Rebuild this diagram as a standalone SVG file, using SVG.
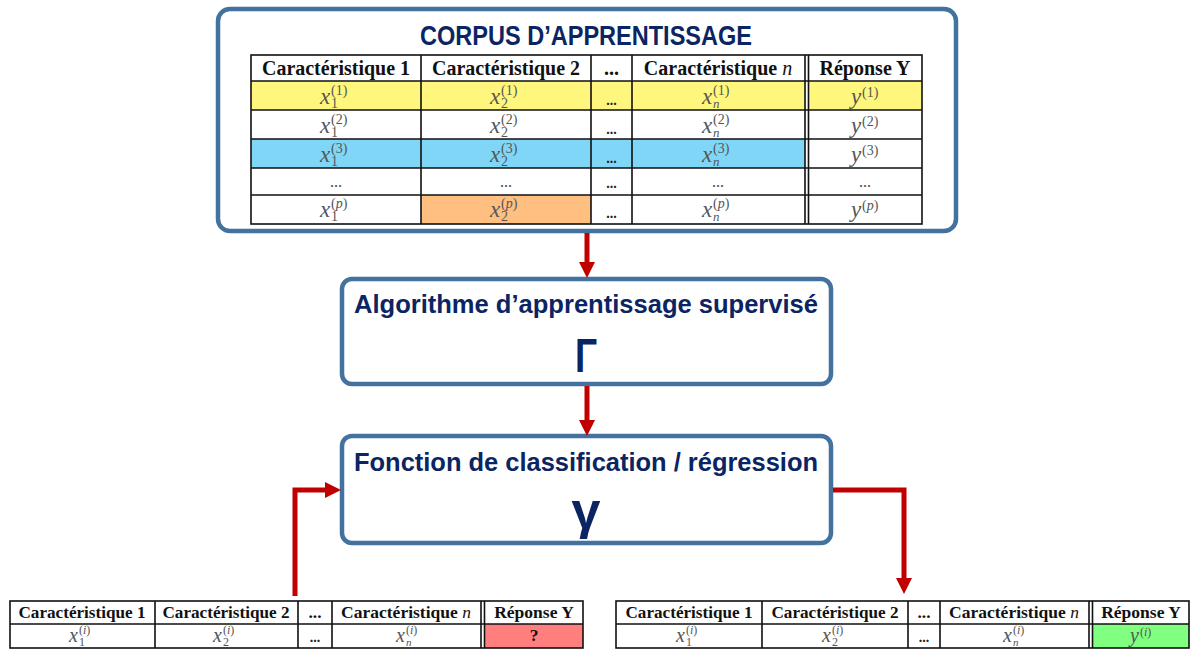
<svg xmlns="http://www.w3.org/2000/svg" width="1192" height="651" viewBox="0 0 1192 651">
<style>
.box{fill:#fff;stroke:#44729E;stroke-width:4.5}
.ttl{font-family:"Liberation Sans",Arial,sans-serif;font-weight:bold;fill:#0B2563;text-anchor:middle}
.grid{stroke:#111;stroke-width:1.6;fill:none}
.hd{font-family:"Liberation Serif","Times New Roman",serif;font-weight:bold;font-size:20px;fill:#111;text-anchor:middle}
.hds{font-family:"Liberation Serif","Times New Roman",serif;font-weight:bold;font-size:17.5px;fill:#111;text-anchor:middle}
.mi{font-family:"Liberation Serif","Times New Roman",serif;font-style:italic;fill:#555}
.mn{font-family:"Liberation Serif","Times New Roman",serif;fill:#555}
.dots{font-family:"Liberation Serif","Times New Roman",serif;font-weight:bold;font-size:14px;fill:#222;text-anchor:middle}
.dotl{font-family:"Liberation Serif","Times New Roman",serif;font-size:16px;fill:#444;text-anchor:middle}
.conn{stroke:#C00000;stroke-width:5;fill:none}
</style>
<defs>
<marker id="ah" viewBox="0 0 16 16" refX="0" refY="8" markerWidth="16" markerHeight="16" markerUnits="userSpaceOnUse" orient="auto">
<path d="M0,0 L16,8 L0,16 z" fill="#C00000"/>
</marker>
</defs>

<g id="corpus">
<rect class="box" x="218" y="9" width="738" height="222" rx="12"/>
<text class="ttl" x="586" y="45" font-size="27" textLength="332" lengthAdjust="spacingAndGlyphs">CORPUS D’APPRENTISSAGE</text>
<rect x="251" y="81" width="554" height="29" fill="#FFF77D"/>
<rect x="808" y="81" width="114" height="29" fill="#FFF77D"/>
<rect x="251" y="139" width="554" height="29" fill="#7FD6F6"/>
<rect x="421" y="195" width="170" height="29" fill="#FFBF80"/>
<rect class="grid" x="251" y="55" width="671" height="169"/>
<path class="grid" d="M251,81H922M251,110H922M251,139H922M251,168H922M251,195H922M421,55V224M591,55V224M632,55V224M805,55V224M808.5,55V224"/>
<text class="hd" x="336" y="75" textLength="148" lengthAdjust="spacingAndGlyphs">Caractéristique 1</text>
<text class="hd" x="506" y="75" textLength="148" lengthAdjust="spacingAndGlyphs">Caractéristique 2</text>
<text class="hd" x="611.5" y="75">...</text>
<text class="hd" x="718" y="75">Caractéristique <tspan font-weight="normal" font-style="italic">n</tspan></text>
<text class="hd" x="865" y="75">Réponse Y</text>
<g>
<text class="mi" x="320" y="104" font-size="23">x</text><text class="mn" x="331" y="108" font-size="14">1</text><text class="mn" x="331" y="95" font-size="14">(1)</text>
<text class="mi" x="490" y="104" font-size="23">x</text><text class="mn" x="501" y="108" font-size="14">2</text><text class="mn" x="501" y="95" font-size="14">(1)</text>
<text class="dots" x="611.5" y="105">...</text>
<text class="mi" x="702" y="104" font-size="23">x</text><text class="mn" x="713" y="108" font-size="13" font-style="italic">n</text><text class="mn" x="713" y="95" font-size="14">(1)</text>
<text class="mi" x="851" y="104" font-size="23">y</text><text class="mn" x="862" y="97" font-size="14">(1)</text>
</g>
<g>
<text class="mi" x="320" y="133" font-size="23">x</text><text class="mn" x="331" y="137" font-size="14">1</text><text class="mn" x="331" y="124" font-size="14">(2)</text>
<text class="mi" x="490" y="133" font-size="23">x</text><text class="mn" x="501" y="137" font-size="14">2</text><text class="mn" x="501" y="124" font-size="14">(2)</text>
<text class="dots" x="611.5" y="134">...</text>
<text class="mi" x="702" y="133" font-size="23">x</text><text class="mn" x="713" y="137" font-size="13" font-style="italic">n</text><text class="mn" x="713" y="124" font-size="14">(2)</text>
<text class="mi" x="851" y="133" font-size="23">y</text><text class="mn" x="862" y="126" font-size="14">(2)</text>
</g>
<g>
<text class="mi" x="320" y="162" font-size="23">x</text><text class="mn" x="331" y="166" font-size="14">1</text><text class="mn" x="331" y="153" font-size="14">(3)</text>
<text class="mi" x="490" y="162" font-size="23">x</text><text class="mn" x="501" y="166" font-size="14">2</text><text class="mn" x="501" y="153" font-size="14">(3)</text>
<text class="dots" x="611.5" y="163">...</text>
<text class="mi" x="702" y="162" font-size="23">x</text><text class="mn" x="713" y="166" font-size="13" font-style="italic">n</text><text class="mn" x="713" y="153" font-size="14">(3)</text>
<text class="mi" x="851" y="162" font-size="23">y</text><text class="mn" x="862" y="155" font-size="14">(3)</text>
</g>
<g>
<text class="dotl" x="336" y="187">...</text>
<text class="dotl" x="506" y="187">...</text>
<text class="dots" x="611.5" y="188">...</text>
<text class="dotl" x="718" y="187">...</text>
<text class="dotl" x="865" y="187">...</text>
</g>
<g>
<text class="mi" x="320" y="217" font-size="23">x</text><text class="mn" x="331" y="221" font-size="14">1</text><text class="mn" x="331" y="208" font-size="14">(<tspan font-style="italic">p</tspan>)</text>
<text class="mi" x="490" y="217" font-size="23">x</text><text class="mn" x="501" y="221" font-size="14">2</text><text class="mn" x="501" y="208" font-size="14">(<tspan font-style="italic">p</tspan>)</text>
<text class="dots" x="611.5" y="218">...</text>
<text class="mi" x="702" y="217" font-size="23">x</text><text class="mn" x="713" y="221" font-size="13" font-style="italic">n</text><text class="mn" x="713" y="208" font-size="14">(<tspan font-style="italic">p</tspan>)</text>
<text class="mi" x="851" y="217" font-size="23">y</text><text class="mn" x="862" y="210" font-size="14">(<tspan font-style="italic">p</tspan>)</text>
</g>
</g>

<g id="algo">
<rect class="box" x="342" y="279" width="489" height="105" rx="10"/>
<text class="ttl" x="586" y="313" font-size="25" textLength="464" lengthAdjust="spacingAndGlyphs">Algorithme d’apprentissage supervisé</text>
<text class="ttl" x="586" y="372" font-size="48" textLength="22" lengthAdjust="spacingAndGlyphs">Γ</text>
</g>

<g id="fonction">
<rect class="box" x="342" y="436" width="489" height="107" rx="10"/>
<text class="ttl" x="586" y="471" font-size="25" textLength="464" lengthAdjust="spacingAndGlyphs">Fonction de classification / régression</text>
<text class="ttl" x="586" y="528" font-size="52">γ</text>
</g>

<g id="entree">
<rect x="484" y="624" width="99" height="24" fill="#FF7F7F"/>
<rect class="grid" x="10" y="601" width="573" height="47"/>
<path class="grid" d="M10,624H583M155,601V648M298,601V648M332,601V648M481,601V648M484.5,601V648"/>
<text class="hds" x="82" y="618" textLength="127" lengthAdjust="spacingAndGlyphs">Caractéristique 1</text>
<text class="hds" x="226" y="618" textLength="127" lengthAdjust="spacingAndGlyphs">Caractéristique 2</text>
<text class="hds" x="315" y="618">...</text>
<text class="hds" x="406" y="618">Caractéristique <tspan font-weight="normal" font-style="italic">n</tspan></text>
<text class="hds" x="534" y="618">Réponse Y</text>
<text class="mi" x="69" y="642" font-size="20">x</text><text class="mn" x="79" y="646" font-size="12">1</text><text class="mn" x="79" y="634" font-size="12">(<tspan font-style="italic">i</tspan>)</text>
<text class="mi" x="213" y="642" font-size="20">x</text><text class="mn" x="223" y="646" font-size="12">2</text><text class="mn" x="223" y="634" font-size="12">(<tspan font-style="italic">i</tspan>)</text>
<text class="dots" x="315" y="642">...</text>
<text class="mi" x="396" y="642" font-size="20">x</text><text class="mn" x="406" y="646" font-size="11" font-style="italic">n</text><text class="mn" x="406" y="634" font-size="12">(<tspan font-style="italic">i</tspan>)</text>
<text class="hds" x="534" y="641">?</text>
</g>

<g id="sortie">
<rect x="1093" y="624" width="96" height="24" fill="#80FF80"/>
<rect class="grid" x="616" y="601" width="573" height="47"/>
<path class="grid" d="M616,624H1189M762,601V648M908,601V648M940,601V648M1089,601V648M1092.5,601V648"/>
<text class="hds" x="689" y="618" textLength="127" lengthAdjust="spacingAndGlyphs">Caractéristique 1</text>
<text class="hds" x="835" y="618" textLength="127" lengthAdjust="spacingAndGlyphs">Caractéristique 2</text>
<text class="hds" x="924" y="618">...</text>
<text class="hds" x="1014" y="618">Caractéristique <tspan font-weight="normal" font-style="italic">n</tspan></text>
<text class="hds" x="1141" y="618">Réponse Y</text>
<text class="mi" x="676" y="642" font-size="20">x</text><text class="mn" x="686" y="646" font-size="12">1</text><text class="mn" x="686" y="634" font-size="12">(<tspan font-style="italic">i</tspan>)</text>
<text class="mi" x="822" y="642" font-size="20">x</text><text class="mn" x="832" y="646" font-size="12">2</text><text class="mn" x="832" y="634" font-size="12">(<tspan font-style="italic">i</tspan>)</text>
<text class="dots" x="924" y="642">...</text>
<text class="mi" x="1003" y="642" font-size="20">x</text><text class="mn" x="1013" y="646" font-size="11" font-style="italic">n</text><text class="mn" x="1013" y="634" font-size="12">(<tspan font-style="italic">i</tspan>)</text>
<text class="mi" x="1130" y="642" font-size="20">y</text><text class="mn" x="1140" y="636" font-size="12">(<tspan font-style="italic">i</tspan>)</text>
</g>

<g id="connectors">
<path class="conn" d="M587,233V262" marker-end="url(#ah)"/>
<path class="conn" d="M587,386V420" marker-end="url(#ah)"/>
<path class="conn" d="M295,596V490H325" marker-end="url(#ah)"/>
<path class="conn" d="M833,490H904V578" marker-end="url(#ah)"/>
</g>
</svg>
